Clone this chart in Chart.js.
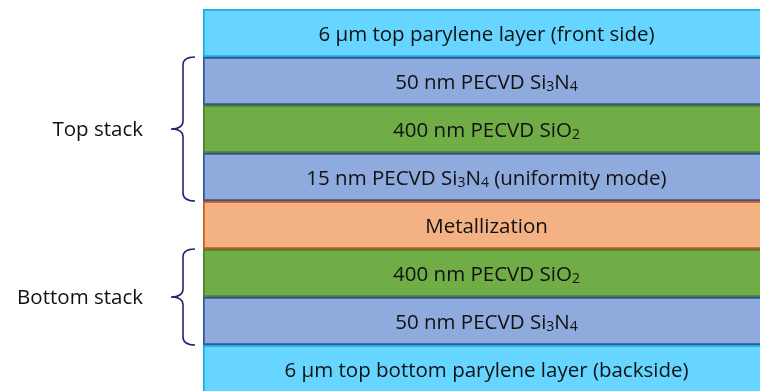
<!DOCTYPE html>
<html>
<head>
<meta charset="utf-8">
<script src="https://cdn.jsdelivr.net/npm/chart.js@4.4.1/dist/chart.umd.min.js"></script>
<style>
  html, body { margin: 0; padding: 0; background: #fff; overflow: hidden; }
  #wrap { position: absolute; left: 0; top: 0; width: 770px; height: 400px; }
</style>
</head>
<body>
<div id="wrap"><canvas id="stackChart"></canvas></div>
<script>
// layers, bottom to top (schematic: every layer drawn with the same thickness)
const layerNames = [
  "6 µm top bottom parylene layer (backside)",
  "50 nm PECVD Si₃N₄",
  "400 nm PECVD SiO₂",
  "Metallization",
  "15 nm PECVD Si₃N₄ (uniformity mode)",
  "400 nm PECVD SiO₂",
  "50 nm PECVD Si₃N₄",
  "6 µm top parylene layer (front side)"
];
const layerThickness = [1, 1, 1, 1, 1, 1, 1, 1];
const layerMaterial = ["parylene", "nitride", "oxide", "metal", "nitride", "oxide", "nitride", "parylene"];

// brace groups: index of first and last layer
const groupNames = ["Bottom stack", "Top stack"];
const groupFrom = [1, 4];
const groupTo = [2, 6];

const fills = { parylene: "#66D5FF", nitride: "#8FAADC", oxide: "#70AD47", metal: "#F4B183" };
const borders = { parylene: "#1AADE4", nitride: "#2F5597", oxide: "#507E32", metal: "#C55A11" };

const SUBS = { "₀": "0", "₁": "1", "₂": "2", "₃": "3", "₄": "4", "₅": "5", "₆": "6", "₇": "7", "₈": "8", "₉": "9" };
const FONT = "'Open Sans', Lato, sans-serif";

// split a label into normal / subscript runs
function splitRuns(str) {
  const runs = [];
  for (const ch of str) {
    const sub = SUBS[ch] !== undefined;
    const c = sub ? SUBS[ch] : ch;
    if (runs.length && runs[runs.length - 1].sub === sub) runs[runs.length - 1].t += c;
    else runs.push({ t: c, sub: sub });
  }
  return runs;
}

function drawRich(ctx, str, cx, cy, size) {
  const runs = splitRuns(str);
  const subSize = Math.round(size * 0.66);
  let w = 0;
  runs.forEach(r => {
    ctx.font = (r.sub ? subSize : size) + "px " + FONT;
    r.w = ctx.measureText(r.t).width;
    w += r.w;
  });
  let x = cx - w / 2;
  ctx.textAlign = "left";
  ctx.textBaseline = "middle";
  runs.forEach(r => {
    ctx.font = (r.sub ? subSize : size) + "px " + FONT;
    ctx.fillText(r.t, x, r.sub ? cy + size * 0.22 : cy);
    x += r.w;
  });
}

const layerLabels = {
  id: "layerLabels",
  afterDatasetsDraw(chart) {
    const ctx = chart.ctx;
    ctx.save();
    ctx.fillStyle = "#111";
    chart.data.datasets.forEach((ds, i) => {
      const bar = chart.getDatasetMeta(i).data[0];
      const cy = (bar.y + bar.base) / 2;
      drawRich(ctx, layerNames[i], bar.x, cy + 2, 20.5);
    });
    ctx.restore();
  }
};

const braces = {
  id: "braces",
  afterDraw(chart) {
    const ctx = chart.ctx;
    const y = chart.scales.y;
    let bottoms = [], acc = 0;
    layerThickness.forEach(t => { bottoms.push(acc); acc += t; });
    ctx.save();
    groupNames.forEach((name, g) => {
      const yTop = y.getPixelForValue(bottoms[groupTo[g]] + layerThickness[groupTo[g]]);
      const yBot = y.getPixelForValue(bottoms[groupFrom[g]]);
      const yMid = (yTop + yBot) / 2;
      const xEnd = 195, xLine = 183, xTip = 171, r = 8;
      ctx.strokeStyle = "#24246E";
      ctx.lineWidth = 1.6;
      ctx.beginPath();
      ctx.moveTo(xEnd, yTop);
      ctx.quadraticCurveTo(xLine, yTop, xLine, yTop + r);
      ctx.lineTo(xLine, yMid - r);
      ctx.quadraticCurveTo(xLine, yMid, xTip, yMid);
      ctx.quadraticCurveTo(xLine, yMid, xLine, yMid + r);
      ctx.lineTo(xLine, yBot - r);
      ctx.quadraticCurveTo(xLine, yBot, xEnd, yBot);
      ctx.stroke();
      ctx.fillStyle = "#111";
      ctx.font = "20.5px " + FONT;
      ctx.textAlign = "right";
      ctx.textBaseline = "middle";
      ctx.fillText(name, 143, yMid + 1);
    });
    ctx.restore();
  }
};

const datasets = layerNames.map((name, i) => ({
  label: name,
  data: [layerThickness[i]],
  backgroundColor: fills[layerMaterial[i]],
  borderColor: borders[layerMaterial[i]],
  borderWidth: 2,
  borderSkipped: false,
  stack: "s",
  categoryPercentage: 1,
  barPercentage: 1
}));

new Chart(document.getElementById("stackChart"), {
  type: "bar",
  data: { labels: ["stack"], datasets: datasets },
  options: {
    responsive: true,
    maintainAspectRatio: false,
    animation: false,
    layout: { padding: { left: 203, top: 9, right: 0, bottom: 7 } },
    scales: {
      x: { display: false, stacked: true },
      y: { display: false, stacked: true, min: 0, max: 8 }
    },
    plugins: {
      legend: { display: false },
      tooltip: { enabled: false }
    }
  },
  plugins: [layerLabels, braces]
});
</script>
</body>
</html>
